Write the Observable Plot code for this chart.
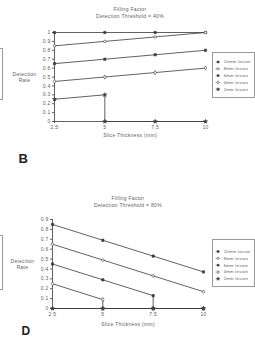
<!DOCTYPE html>
<html>
<head>
<meta charset="utf-8">
<script src="https://cdn.jsdelivr.net/npm/d3@7"></script>
<script src="https://cdn.jsdelivr.net/npm/@observablehq/plot@0.6"></script>
<style>
  html, body { margin: 0; padding: 0; background: #fff; }
  body { width: 255px; height: 339px; overflow: hidden; position: relative; font-family: "Liberation Sans", Arial, sans-serif; }
  .abs { position: absolute; }
  .frag { position: absolute; left: -10px; width: 11px; border: 1px solid #9a9a9a; }
</style>
</head>
<body>
<div class="frag" style="top:48px;height:50px;"></div>
<div class="frag" style="top:235px;height:53px;"></div>
<div id="mainB" class="abs" style="left:0;top:0;"></div>
<div id="legB" class="abs" style="left:212px;top:52px;"></div>
<div id="mainD" class="abs" style="left:0;top:170px;"></div>
<div id="legD" class="abs" style="left:212px;top:239px;"></div>
<script>
// ---- data ----
const slice = [2.5, 5, 7.5, 10];
const sliceTickLabels = ["2.5", "5", "7.5", "10"];
const lesions = ["10mm lesion", "8mm lesion", "6mm lesion", "4mm lesion", "2mm lesion"];
const markers = ["square", "circle", "square", "diamond", "star"];
const markerFilled = [true, false, true, false, true];
const yTicksB = [0, 0.1, 0.2, 0.3, 0.4, 0.5, 0.6, 0.7, 0.8, 0.9, 1];
const yTicksD = [0, 0.1, 0.2, 0.3, 0.4, 0.5, 0.6, 0.7, 0.8, 0.9];
const titleB = ["Filling Factor", "Detection Threshold = 40%"];
const titleD = ["Filling Factor", "Detection Threshold = 80%"];
const xTitle = "Slice Thickness (mm)";
const yTitle = "Detection\nRate";

// panel B: threshold 40%
const xB = [slice, slice, slice, slice, [2.5, 5, 5, 7.5, 10]];
const rateB = [
  [1, 1, 1, 1],
  [0.85, 0.9, 0.95, 1.0],
  [0.65, 0.7, 0.75, 0.8],
  [0.45, 0.5, 0.55, 0.6],
  [0.25, 0.3, 0, 0, 0]
];
// panel D: threshold 80%
const xD = [slice, slice, [2.5, 5, 7.5, 7.5, 10], [2.5, 5, 5, 7.5, 10], slice];
const rateD = [
  [0.85, 0.69, 0.53, 0.37],
  [0.65, 0.49, 0.33, 0.17],
  [0.45, 0.29, 0.13, 0, 0],
  [0.25, 0.09, 0, 0, 0],
  [0, 0, 0, 0]
];

function rows(xs, ys) {
  const out = [];
  lesions.forEach((l, i) => xs[i].forEach((x, j) => out.push({lesion: l, i, x, y: ys[i][j]})));
  return out;
}

const ink = "#3a3a3a";
const txt = "#606060";
const font = "Liberation Sans, Arial, sans-serif";

function mainPlot(data, yDomain, yTicks, title, letter, m, h, letterPos, letterSize, titleDy, xtDy) {
  return Plot.plot({
    width: 255, height: h,
    marginLeft: m.l, marginRight: m.r, marginTop: m.t, marginBottom: m.b,
    style: {fontFamily: font, fontSize: "5px", color: txt, background: "transparent", overflow: "visible", letterSpacing: "0.3px"},
    x: {domain: [2.5, 10], ticks: slice, tickFormat: d => sliceTickLabels[slice.indexOf(d)], tickSize: 2, tickPadding: 2, label: null},
    y: {domain: yDomain, ticks: yTicks, tickFormat: d => String(+d.toFixed(1)), tickSize: 2, tickPadding: 2, label: null},
    symbol: {domain: lesions, range: markers},
    marks: [
      Plot.ruleX([2.5], {stroke: ink, strokeWidth: 0.8}),
      Plot.ruleY([0], {stroke: ink, strokeWidth: 0.8}),
      Plot.line(data, {x: "x", y: "y", z: "lesion", stroke: ink, strokeWidth: 0.8}),
      Plot.dot(data, {x: "x", y: "y", symbol: "lesion", r: 1.3, stroke: ink, strokeWidth: 0.6,
        fill: d => markerFilled[d.i] ? ink : "white"}),
      Plot.text([title.join("\n")], {text: d => d, frameAnchor: "top", dy: titleDy, textAnchor: "middle", lineAnchor: "middle", lineHeight: 1.25, fontSize: 5, fill: txt}),
      Plot.text([xTitle], {text: d => d, frameAnchor: "bottom", dy: xtDy, textAnchor: "middle", lineAnchor: "middle", fontSize: 5, fill: txt}),
      Plot.text([yTitle], {text: d => d, frameAnchor: "left", dx: -30, textAnchor: "middle", lineAnchor: "middle", lineHeight: 1.25, fontSize: 5, fill: txt}),
      Plot.text([letter], {text: d => d, frameAnchor: "bottom-left", dx: letterPos[0], dy: letterPos[1], textAnchor: "start", lineAnchor: "middle", fontSize: letterSize, fontWeight: "bold", fill: "#222"})
    ]
  });
}

function legendPlot(yRange, h) {
  return Plot.plot({
    width: 48, height: h, margin: 0,
    style: {fontFamily: font, fontSize: "5px", color: txt, background: "white", border: "1px solid #9a9a9a", boxSizing: "border-box", overflow: "visible", letterSpacing: "0.3px"},
    x: {domain: [0, 48], range: [0, 48], axis: null},
    y: {type: "point", domain: lesions, range: yRange, axis: null},
    symbol: {domain: lesions, range: markers},
    marks: [
      Plot.ruleY(lesions, {y: d => d, x1: 3, x2: 8, stroke: ink, strokeWidth: 0.6}),
      Plot.dot(lesions, {y: d => d, x: 5.5, symbol: d => d, r: 1.2, stroke: ink, strokeWidth: 0.6,
        fill: d => markerFilled[lesions.indexOf(d)] ? ink : "white"}),
      Plot.text(lesions, {y: d => d, x: 12, text: d => d, textAnchor: "start", lineAnchor: "middle", fontSize: 5, fill: txt})
    ]
  });
}

document.getElementById("mainB").append(
  mainPlot(rows(xB, rateB), [0, 1], yTicksB, titleB, "B", {l: 54, r: 50, t: 32, b: 49}, 170, [-36, 37], 13, -20, 14)
);
document.getElementById("mainD").append(
  mainPlot(rows(xD, rateD), [0, 0.9], yTicksD, titleD, "D", {l: 52, r: 52, t: 49, b: 31}, 169, [-31, 23], 12, -18, 16)
);
document.getElementById("legB").append(legendPlot([5, 46], 51));
document.getElementById("legD").append(legendPlot([8, 49], 54));
</script>
</body>
</html>
